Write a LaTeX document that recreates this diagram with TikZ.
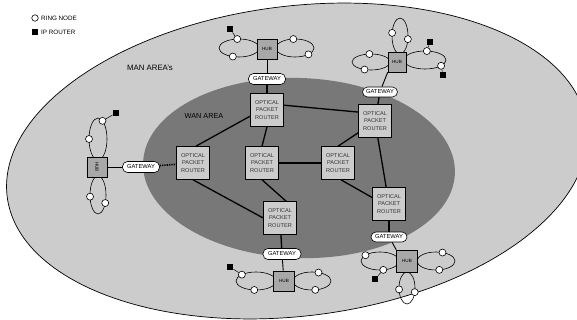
\documentclass[tikz,border=0pt]{standalone}
\usepackage{fontspec}
\setmainfont{Liberation Sans}
\usetikzlibrary{calc}
\pgfdeclarelayer{back}
\pgfdeclarelayer{links}
\pgfsetlayers{back,links,main}
\definecolor{manfill}{gray}{0.80}
\definecolor{wanfill}{gray}{0.47}
\definecolor{routerfill}{gray}{0.80}
\definecolor{hubfill}{gray}{0.66}
\begin{document}
\begin{tikzpicture}[x=1pt,y=-1pt,
  router/.style={draw, line width=0.6pt, fill=routerfill, minimum width=33pt,
    minimum height=33pt, inner sep=0pt, align=center,
    font=\fontsize{5.6}{7.6}\selectfont, text=black!80},
  hub/.style={draw, line width=0.6pt, fill=hubfill, minimum width=20pt,
    minimum height=20pt, inner sep=0pt, font=\fontsize{4.6}{5}\selectfont},
  gateway/.style={draw, line width=0.6pt, fill=white, rounded corners=5pt,
    minimum width=37pt, minimum height=11pt, inner sep=0pt,
    font=\fontsize{5.8}{6}\selectfont},
  ringnode/.style={circle, draw, line width=0.6pt, fill=white,
    minimum size=7pt, inner sep=0pt},
  iprouter/.style={fill=black, minimum size=6.5pt, inner sep=0pt},
  ring/.style={draw, line width=0.6pt},
  wanlink/.style={line width=1.3pt},
  hublink/.style={line width=0.9pt},
  stub/.style={line width=0.5pt}]

\useasboundingbox (0,0) rectangle (577,320);

% MAN and WAN areas
\begin{pgfonlayer}{back}
  \clip (0,0) rectangle (577,320);
  \fill[white] (0,0) rectangle (577,320);
  \draw[fill=manfill, line width=0.7pt, rotate around={7:(297,161)}]
    (297,161) ellipse [x radius=292pt, y radius=155pt];
  \fill[wanfill, rotate around={-2:(299,168)}]
    (299,168) ellipse [x radius=156pt, y radius=90pt];
\end{pgfonlayer}

% legend
\node[ringnode, minimum size=6.5pt] (lgring) at (35,18) {};
\node[anchor=west, font=\fontsize{6.3}{7}\selectfont, inner sep=0pt] (lgringtxt) at (41,18) {RING NODE};
\node[iprouter] (lgip) at (35,32) {};
\node[anchor=west, font=\fontsize{6.3}{7}\selectfont, inner sep=0pt] (lgiptxt) at (41,32) {IP ROUTER};

% area labels
\node[font=\fontsize{7.8}{8}\selectfont] (manlbl) at (150,68) {MAN AREA's};
\node[font=\fontsize{7.3}{8}\selectfont] (wanlbl) at (204,116) {WAN AREA};

% optical packet routers
\node[router] (rtop) at (267,110) {OPTICAL\\PACKET\\ROUTER};
\node[router] (rtr) at (375,121) {OPTICAL\\PACKET\\ROUTER};
\node[router] (rleft) at (193,163) {OPTICAL\\PACKET\\ROUTER};
\node[router] (rcen) at (262,163) {OPTICAL\\PACKET\\ROUTER};
\node[router] (rmid) at (338,163) {OPTICAL\\PACKET\\ROUTER};
\node[router] (rbr) at (389,204) {OPTICAL\\PACKET\\ROUTER};
\node[router] (rbot) at (280,218) {OPTICAL\\PACKET\\ROUTER};

% gateways
\node[gateway] (g1) at (267,79) {GATEWAY};
\node[gateway, minimum width=35pt, minimum height=10pt] (g2) at (380,92) {GATEWAY};
\node[gateway] (g3) at (141,167) {GATEWAY};
\node[gateway, minimum width=38pt] (g4) at (282,254) {GATEWAY};
\node[gateway, minimum width=36pt, minimum height=10pt] (g5) at (389,237) {GATEWAY};

% hubs
\node[hub] (h1) at (267,49) {HUB};
\node[hub, minimum width=18pt] (h2) at (397,62) {HUB};
\node[hub] (h3) at (97,167) {\rotatebox{-90}{HUB}};
\node[hub, minimum width=21pt] (h4) at (284,281) {HUB};
\node[hub, minimum width=21pt, minimum height=22pt] (h5) at (407,261) {HUB};

% rings around the top hub
\begin{scope}[shift={(239,48)}]
  \begin{pgfonlayer}{links}\draw[ring] (0,0) ellipse [x radius=20pt, y radius=9pt];\end{pgfonlayer}
  \node[ringnode] (h1a) at (-95:20 and 9) {};
  \node[ringnode] (h1b) at (108:20 and 9) {};
\end{scope}
\begin{scope}[shift={(295,48)}]
  \begin{pgfonlayer}{links}\draw[ring] (0,0) ellipse [x radius=19pt, y radius=9pt];\end{pgfonlayer}
  \node[ringnode] (h1c) at (-95:19 and 9) {};
  \node[ringnode] (h1d) at (45:19 and 9) {};
\end{scope}
\node[iprouter] (ip1) at (230,29) {};

% rings around the top-right hub
\begin{scope}[shift={(400,36)}]
  \begin{pgfonlayer}{links}\draw[ring] (0,0) ellipse [x radius=8pt, y radius=18pt];\end{pgfonlayer}
  \node[ringnode] (h2a) at (190:8 and 18) {};
  \node[ringnode] (h2b) at (10:8 and 18) {};
\end{scope}
\begin{scope}[shift={(371,62)}]
  \begin{pgfonlayer}{links}\draw[ring] (0,0) ellipse [x radius=19pt, y radius=8pt];\end{pgfonlayer}
  \node[ringnode] (h2c) at (-95:19 and 8) {};
  \node[ringnode] (h2d) at (110:19 and 8) {};
\end{scope}
\begin{scope}[shift={(425,60)}]
  \begin{pgfonlayer}{links}\draw[ring] (0,0) ellipse [x radius=21pt, y radius=9pt];\end{pgfonlayer}
  \node[ringnode] (h2e) at (-85:21 and 9) {};
  \node[ringnode] (h2f) at (40:21 and 9) {};
\end{scope}
\node[iprouter] (ip2) at (430,42) {};
\node[iprouter] (ip3) at (443,75) {};

% rings around the left hub
\begin{scope}[shift={(98,139)}]
  \begin{pgfonlayer}{links}\draw[ring] (0,0) ellipse [x radius=9pt, y radius=21pt];\end{pgfonlayer}
  \node[ringnode] (h3a) at (180:9 and 21) {};
  \node[ringnode] (h3b) at (-60:9 and 21) {};
\end{scope}
\begin{scope}[shift={(98,195)}]
  \begin{pgfonlayer}{links}\draw[ring] (0,0) ellipse [x radius=8pt, y radius=19pt];\end{pgfonlayer}
  \node[ringnode] (h3c) at (175:8 and 19) {};
  \node[ringnode] (h3d) at (25:8 and 19) {};
\end{scope}
\node[iprouter] (ip4) at (116,113) {};

% rings around the bottom hub
\begin{scope}[shift={(256,281)}]
  \begin{pgfonlayer}{links}\draw[ring] (0,0) ellipse [x radius=20pt, y radius=9pt];\end{pgfonlayer}
  \node[ringnode] (h4a) at (-135:20 and 9) {};
  \node[ringnode] (h4b) at (95:20 and 9) {};
\end{scope}
\begin{scope}[shift={(312,281)}]
  \begin{pgfonlayer}{links}\draw[ring] (0,0) ellipse [x radius=19pt, y radius=9pt];\end{pgfonlayer}
  \node[ringnode] (h4c) at (-70:19 and 9) {};
  \node[ringnode] (h4d) at (80:19 and 9) {};
\end{scope}
\node[iprouter] (ip5) at (230,267) {};

% rings around the bottom-right hub
\begin{scope}[shift={(380,261)}]
  \begin{pgfonlayer}{links}\draw[ring] (0,0) ellipse [x radius=19pt, y radius=9pt];\end{pgfonlayer}
  \node[ringnode] (h5a) at (-140:19 and 9) {};
  \node[ringnode] (h5b) at (80:19 and 9) {};
\end{scope}
\begin{scope}[shift={(436,261)}]
  \begin{pgfonlayer}{links}\draw[ring] (0,0) ellipse [x radius=19pt, y radius=9pt];\end{pgfonlayer}
  \node[ringnode] (h5c) at (-70:19 and 9) {};
  \node[ringnode] (h5d) at (80:19 and 9) {};
\end{scope}
\begin{scope}[shift={(407,288)}]
  \begin{pgfonlayer}{links}\draw[ring] (0,0) ellipse [x radius=8pt, y radius=16pt];\end{pgfonlayer}
  \node[ringnode] (h5e) at (175:8 and 16) {};
  \node[ringnode] (h5f) at (15:8 and 16) {};
\end{scope}
\node[iprouter] (ip6) at (375,279) {};

% connectors
\begin{pgfonlayer}{links}
  % WAN mesh
  \draw[wanlink] (rtop.16) -- (rtr.152);
  \draw[wanlink] (rtop.200) -- (rleft.80);
  \draw[wanlink] (rtop.south) -- (rcen.north);
  \draw[wanlink] (rcen) -- (rmid);
  \draw[wanlink] (rmid.north) -- (rtr.215);
  \draw[wanlink] (rtr) -- (rbr);
  \draw[wanlink] (rmid.-80) -- (rbr.159);
  \draw[wanlink] (rleft.south) -- (rbot.west);
  \draw[wanlink] (rcen.south) -- (rbot.70);
  % gateways to routers
  \draw[wanlink] (g1) -- (rtop);
  \draw[wanlink] (g2) -- (rtr);
  \draw[wanlink, densely dotted, line width=1.6pt] (g3) -- (rleft);
  \draw[wanlink] (g4) -- (rbot);
  \draw[wanlink] (g5) -- (rbr);
  % gateways to hubs
  \draw[hublink] (h1) -- (g1);
  \draw[hublink] (h2.south west) -- (g2.70);
  \draw[stub] (h3) -- (g3);
  \draw[hublink] (h4) -- (g4);
  \draw[hublink] (g5.-60) -- (h5.north west);
  % IP routers on ring nodes
  \draw[stub] (ip1) -- (h1a);
  \draw[stub] (ip2) -- (h2e);
  \draw[stub] (ip3) -- (h2f);
  \draw[stub] (ip4) -- (h3b);
  \draw[stub] (ip5) -- (h4a);
  \draw[stub] (ip6) -- (h5b);
\end{pgfonlayer}
\end{tikzpicture}
\end{document}
